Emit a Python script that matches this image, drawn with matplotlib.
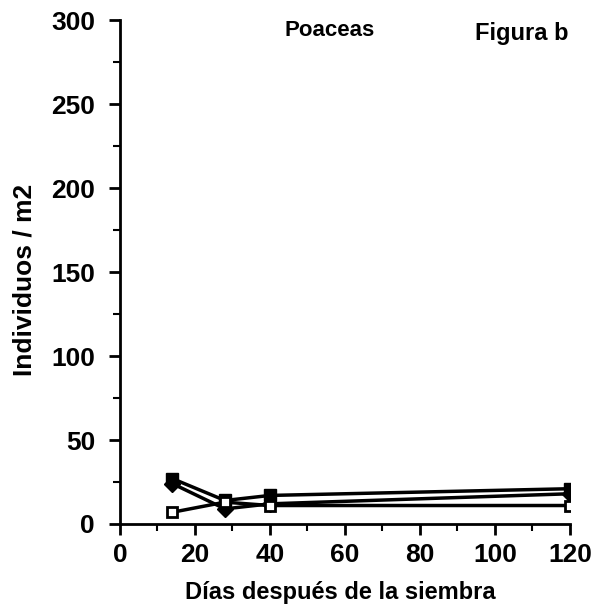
import matplotlib
matplotlib.use("Agg")
import matplotlib.pyplot as plt
from matplotlib.ticker import MultipleLocator

days = [14, 28, 40, 120]
serie_a = [27, 14, 17, 21]
serie_b = [24, 9, 12, 18]
serie_c = [7, 13, 11, 11]

plt.rcParams['font.family'] = ['Liberation Sans', 'DejaVu Sans']
plt.rcParams['font.weight'] = 'bold'

fig = plt.figure(figsize=(6.03, 6.15), dpi=100)
ax = fig.add_axes([0.199, 0.148, 0.746, 0.819])

ax.plot(days, serie_a, color='black', lw=2.5, marker='s', ms=9, mfc='black', mec='black')
ax.plot(days, serie_b, color='black', lw=2.5, marker='D', ms=8, mfc='black', mec='black')
ax.plot(days, serie_c, color='black', lw=2.5, marker='s', ms=7, mfc='white', mec='black', mew=2)

ax.set_xlim(0, 120)
ax.set_ylim(0, 300)
ax.xaxis.set_major_locator(MultipleLocator(20))
ax.xaxis.set_minor_locator(MultipleLocator(10))
ax.yaxis.set_major_locator(MultipleLocator(50))
ax.yaxis.set_minor_locator(MultipleLocator(25))

for s in ['top', 'right']:
    ax.spines[s].set_visible(False)
for s in ['left', 'bottom']:
    ax.spines[s].set_linewidth(2)

ax.tick_params(axis='both', which='major', length=8, width=2, labelsize=19, direction='out')
ax.tick_params(axis='both', which='minor', length=5, width=1.5, direction='out')
ax.tick_params(axis='y', pad=10)
ax.tick_params(axis='x', pad=6)

ax.set_xlabel('Días después de la siembra', fontsize=17, fontweight='bold')
ax.set_ylabel('Individuos / m2', fontsize=19, fontweight='bold')
ax.xaxis.set_label_coords(0.489, -0.113)
ax.yaxis.set_label_coords(-0.185, 0.484)

fig.text(0.547, 0.951, 'Poaceas', fontsize=16, fontweight='bold', ha='center', va='center')
fig.text(0.866, 0.945, 'Figura b', fontsize=17, fontweight='bold', ha='center', va='center')

fig.savefig('out.png', dpi=100)
